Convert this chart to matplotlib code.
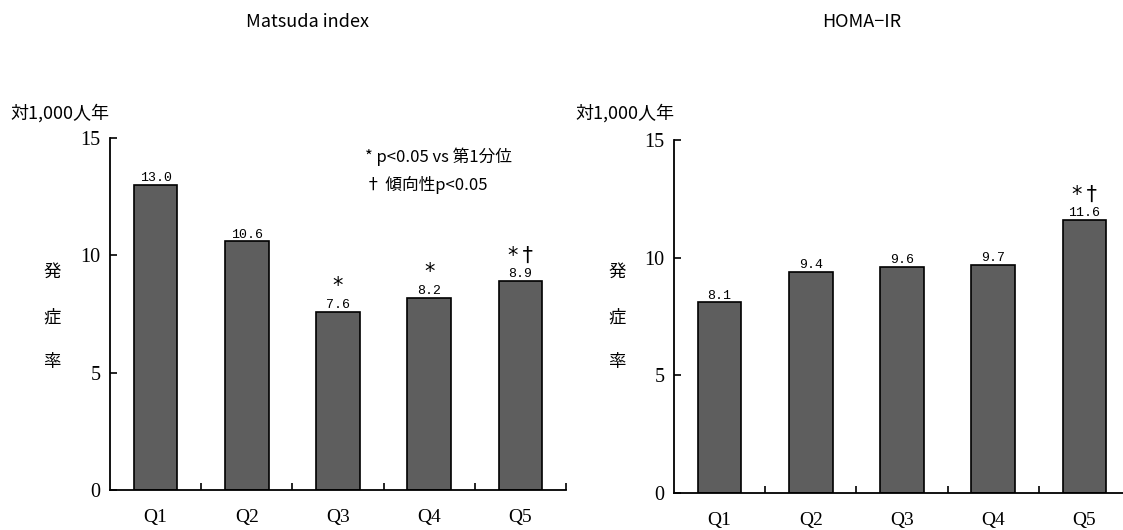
import matplotlib
matplotlib.use("Agg")
import matplotlib.pyplot as plt

# data
quintiles = ["Q1", "Q2", "Q3", "Q4", "Q5"]
matsuda_rate = [13.0, 10.6, 7.6, 8.2, 8.9]
matsuda_marks = ["", "", "*", "*", "*†"]
homa_rate = [8.1, 9.4, 9.6, 9.7, 11.6]
homa_marks = ["", "", "", "", "*†"]
y_ticks = [0, 5, 10, 15]

panel_titles = ["Matsuda index", "HOMA−IR"]
unit_label = "対1,000人年"
y_label = "発症率"
legend_lines = ["* p<0.05 vs 第1分位", "† 傾向性p<0.05"]

JP = ["Noto Sans CJK JP", "DejaVu Sans"]
MARK = ["DejaVu Sans"]
SERIF = ["Liberation Serif", "DejaVu Serif"]
MONO = ["Liberation Mono", "DejaVu Sans Mono"]
BAR = "#5e5e5e"

W, H = 1123, 530
fig = plt.figure(figsize=(W / 100, H / 100), dpi=100)


def px(x, y):
    return x / W, 1 - y / H


def panel(rect, values, marks):
    ax = fig.add_axes(rect)
    x = range(len(values))
    bars = ax.bar(x, values, width=0.48, color=BAR, edgecolor="black", linewidth=1.2, zorder=2)
    ax.set_xlim(-0.5, len(values) - 0.5)
    ax.set_ylim(0, 15)
    for s in ("top", "right"):
        ax.spines[s].set_visible(False)
    for s in ("left", "bottom"):
        ax.spines[s].set_linewidth(1.3)
    ax.set_yticks(y_ticks)
    ax.set_yticklabels([str(t) for t in y_ticks], fontfamily=SERIF, fontsize=14.5)
    ax.tick_params(axis="y", direction="in", length=5, width=1.2, pad=7)
    # boundaries as major ticks, names as minor ticks
    ax.set_xticks([i + 0.5 for i in range(len(values))])
    ax.set_xticklabels([])
    ax.tick_params(axis="x", which="major", direction="in", length=5, width=1.2)
    ax.set_xticks(list(x), minor=True)
    ax.set_xticklabels(quintiles, minor=True, fontfamily=SERIF, fontsize=14)
    ax.tick_params(axis="x", which="minor", length=0, pad=14)
    for b, v, m in zip(bars, values, marks):
        cx = b.get_x() + b.get_width() / 2
        ax.annotate(f"{v:.1f}", (cx, v), xytext=(0, 0.5), textcoords="offset points",
                    ha="center", va="bottom", fontsize=9.5, fontfamily=MONO)
        if m:
            ax.annotate("\u2009".join(m), (cx, v), xytext=(0, 11), textcoords="offset points",
                        ha="center", va="bottom", fontsize=15, fontfamily=MARK)
    return ax


panel([110 / W, 1 - 490 / H, 456 / W, 352 / H], matsuda_rate, matsuda_marks)
panel([674 / W, 1 - 493 / H, 456 / W, 353 / H], homa_rate, homa_marks)

for cx, t in zip((307, 862), panel_titles):
    fig.text(*px(cx, 22), t, ha="center", va="center", fontsize=13, fontfamily=JP)

for x0, y0, ylx in ((10, 113, 52), (575, 113, 617)):
    fig.text(*px(x0, y0), unit_label, ha="left", va="center", fontsize=13, fontfamily=JP)
    for i, ch in enumerate(y_label):
        fig.text(*px(ylx, 272 + 45 * i), ch, ha="center", va="center",
                 fontsize=12.5, fontfamily=JP)

for i, line in enumerate(legend_lines):
    fig.text(*px(365, 157 + 28 * i), line, ha="left", va="center",
             fontsize=12, fontfamily=JP)

fig.savefig("out.png", dpi=100, facecolor="white")
